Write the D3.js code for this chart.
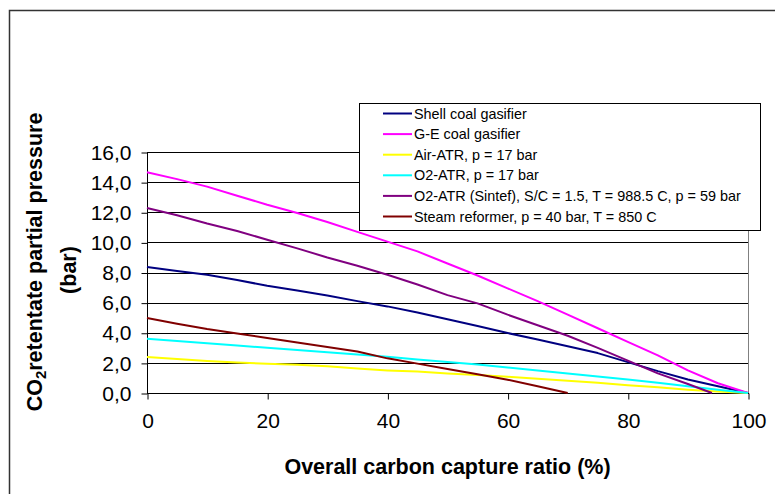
<!DOCTYPE html>
<html lang="en">
  <head>
    <meta charset="utf-8">
    <title>CO2 retentate partial pressure</title>
    <script src="https://d3js.org/d3.v7.js"></script>
    <style>
      body { margin: 0; background: white; }
      text { font-family: Arial, "Liberation Sans", sans-serif; fill: black; }
    </style>
  </head>
  <body>
    <script>
      // data
      const seriesNames = ["Shell coal gasifier",
                           "G-E coal gasifier",
                           "Air-ATR, p = 17 bar",
                           "O2-ATR, p = 17 bar",
                           "O2-ATR (Sintef), S/C = 1.5, T = 988.5 C, p = 59 bar",
                           "Steam reformer, p = 40 bar, T = 850 C"];
      const seriesColors = ["#000080", "#FF00FF", "#FFFF00", "#00FFFF", "#800080", "#800000"];

      const xFull = [0, 5, 10, 15, 20, 25, 30, 35, 40, 45, 50, 55, 60, 65, 70, 75, 80, 85, 90, 95, 100];
      const shellY = [8.37, 8.1, 7.85, 7.5, 7.12, 6.8, 6.48, 6.1, 5.75, 5.35, 4.9, 4.45, 3.98, 3.55, 3.1, 2.65, 2.05, 1.45, 0.9, 0.45, 0.0];
      const geY = [14.65, 14.2, 13.7, 13.1, 12.5, 11.95, 11.35, 10.7, 10.05, 9.4, 8.6, 7.8, 6.95, 6.1, 5.2, 4.3, 3.4, 2.5, 1.5, 0.65, 0.0];
      const airAtrY = [2.39, 2.25, 2.12, 2.02, 1.95, 1.87, 1.78, 1.62, 1.5, 1.42, 1.3, 1.2, 1.08, 0.95, 0.82, 0.68, 0.52, 0.38, 0.22, 0.1, 0.0];
      const o2AtrY = [3.6, 3.45, 3.3, 3.15, 3.0, 2.85, 2.7, 2.55, 2.4, 2.22, 2.06, 1.9, 1.7, 1.5, 1.3, 1.1, 0.9, 0.68, 0.45, 0.22, 0.0];
      const sintefX = [0, 5, 10, 15, 20, 25, 30, 35, 40, 45, 50, 55, 60, 65, 70, 75, 80, 85, 90, 94];
      const sintefY = [12.28, 11.8, 11.25, 10.75, 10.18, 9.6, 9.0, 8.45, 7.85, 7.2, 6.5, 5.95, 5.2, 4.5, 3.8, 3.0, 2.15, 1.3, 0.6, 0.0];
      const steamX = [0, 5, 10, 15, 20, 25, 30, 35, 40, 45, 50, 55, 60, 65, 70];
      const steamY = [4.98, 4.6, 4.25, 3.95, 3.65, 3.35, 3.05, 2.75, 2.3, 1.95, 1.6, 1.25, 0.88, 0.45, 0.0];

      const xTicks = [0, 20, 40, 60, 80, 100];
      const yTicks = [0, 2, 4, 6, 8, 10, 12, 14, 16];

      const seriesX = [xFull, xFull, xFull, xFull, sintefX, steamX];
      const seriesY = [shellY, geY, airAtrY, o2AtrY, sintefY, steamY];

      const w = 775;
      const h = 494;
      const plot = {left: 147, right: 748, top: 152, bottom: 393};

      const xScale = d3.scaleLinear()
                       .domain([0, 100])
                       .range([plot.left, plot.right]);

      const yScale = d3.scaleLinear()
                       .domain([0, 16])
                       .range([plot.bottom, plot.top]);

      const svg = d3.select("body")
                    .append("svg")
                    .attr("width", w)
                    .attr("height", h);

      svg.append("rect")
         .attr("width", w)
         .attr("height", h)
         .attr("fill", "white");

      // outer chart border (right/bottom edges are cut off in the picture)
      svg.append("rect")
         .attr("x", 9.5)
         .attr("y", 10.5)
         .attr("width", 800)
         .attr("height", 600)
         .attr("fill", "none")
         .attr("stroke", "#333")
         .attr("stroke-width", 1.5);

      // gridlines
      svg.append("g")
         .selectAll("line")
         .data(yTicks)
         .enter().append("line")
         .attr("x1", plot.left)
         .attr("x2", plot.right)
         .attr("y1", d => Math.round(yScale(d)) + 0.5)
         .attr("y2", d => Math.round(yScale(d)) + 0.5)
         .attr("stroke", "#000")
         .attr("stroke-width", 1);

      // right border of plot area
      svg.append("line")
         .attr("x1", plot.right + 0.5)
         .attr("x2", plot.right + 0.5)
         .attr("y1", plot.top)
         .attr("y2", plot.bottom)
         .attr("stroke", "#808080");

      // axes
      const yAxis = d3.axisLeft(yScale)
                      .tickValues(yTicks)
                      .tickSize(6)
                      .tickPadding(10)
                      .tickFormat(d => d3.format(".1f")(d).replace(".", ","));

      const xAxis = d3.axisBottom(xScale)
                      .tickValues(xTicks)
                      .tickSize(6)
                      .tickPadding(14)
                      .tickFormat(d3.format("d"));

      const gy = svg.append("g")
                    .attr("transform", `translate(${plot.left + 0.5}, 0.5)`)
                    .call(yAxis);
      const gx = svg.append("g")
                    .attr("transform", `translate(0.5, ${plot.bottom + 0.5})`)
                    .call(xAxis);

      [gx, gy].forEach(g => {
        g.select(".domain").remove();
        g.selectAll(".tick line").attr("stroke", "#000");
        g.selectAll(".tick text")
         .attr("font-size", 21)
         .attr("font-family", "Arial, 'Liberation Sans', sans-serif")
         .attr("fill", "#000");
      });

      svg.append("line")
         .attr("x1", plot.left + 0.5).attr("x2", plot.left + 0.5)
         .attr("y1", plot.top).attr("y2", plot.bottom + 1)
         .attr("stroke", "#000");
      svg.append("line")
         .attr("x1", plot.left).attr("x2", plot.right + 1)
         .attr("y1", plot.bottom + 0.5).attr("y2", plot.bottom + 0.5)
         .attr("stroke", "#000");

      // series lines
      const line = d3.line()
                     .x(d => xScale(d[0]))
                     .y(d => yScale(d[1]));

      svg.append("g")
         .selectAll("path")
         .data(seriesNames.map((name, i) => seriesX[i].map((x, j) => [x, seriesY[i][j]])))
         .enter().append("path")
         .attr("d", line)
         .attr("fill", "none")
         .attr("stroke", (d, i) => seriesColors[i])
         .attr("stroke-width", 2)
         .attr("stroke-linejoin", "round");

      // axis titles
      svg.append("text")
         .attr("x", (plot.left + plot.right) / 2)
         .attr("y", 474)
         .attr("text-anchor", "middle")
         .attr("font-weight", "bold")
         .attr("font-size", 21.5)
         .text("Overall carbon capture ratio (%)");

      const yTitle = svg.append("text")
                        .attr("transform", "translate(42, 262) rotate(-90)")
                        .attr("text-anchor", "middle")
                        .attr("font-weight", "bold")
                        .attr("font-size", 21.5);
      yTitle.append("tspan").text("CO");
      yTitle.append("tspan").attr("font-size", 15).attr("dy", 4).text("2");
      yTitle.append("tspan").attr("dy", -4).text("retentate partial pressure");

      svg.append("text")
         .attr("transform", "translate(76, 270) rotate(-90)")
         .attr("text-anchor", "middle")
         .attr("font-weight", "bold")
         .attr("font-size", 21.5)
         .text("(bar)");

      // legend
      const legend = svg.append("g");
      legend.append("rect")
            .attr("x", 359.5)
            .attr("y", 103.5)
            .attr("width", 401)
            .attr("height", 127)
            .attr("fill", "white")
            .attr("stroke", "#000");

      const rows = legend.selectAll("g.row")
                         .data(seriesNames)
                         .enter().append("g")
                         .attr("class", "row")
                         .attr("transform", (d, i) => `translate(0, ${113.5 + i * 20.6})`);

      rows.append("line")
          .attr("x1", 383)
          .attr("x2", 412)
          .attr("stroke", (d, i) => seriesColors[i])
          .attr("stroke-width", 2);

      rows.append("text")
          .attr("x", 414)
          .attr("dy", "0.35em")
          .attr("font-size", 14.4)
          .text(d => d);
    </script>
  </body>
</html>
